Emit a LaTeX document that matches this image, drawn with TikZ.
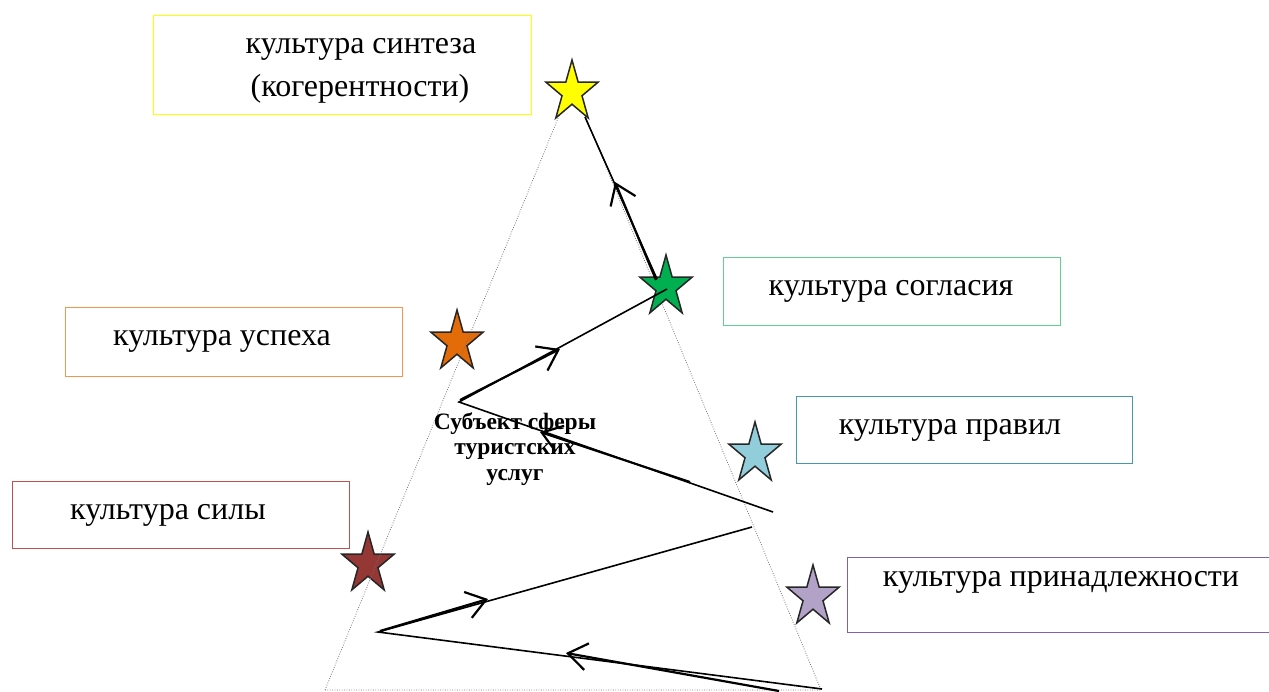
\documentclass[tikz,border=0pt]{standalone}
\usepackage{fontspec}
\setmainfont{Liberation Serif}
\usetikzlibrary{arrows.meta}
\definecolor{bYel}{RGB}{255,255,0}
\definecolor{bGrn}{RGB}{100,205,150}
\definecolor{bOrg}{RGB}{240,150,80}
\definecolor{bBlu}{RGB}{75,150,172}
\definecolor{bRed}{RGB}{192,80,77}
\definecolor{bPur}{RGB}{128,96,176}
\definecolor{sYel}{RGB}{255,255,0}
\definecolor{sGrn}{RGB}{0,176,80}
\definecolor{sOrg}{RGB}{227,108,9}
\definecolor{sBlu}{RGB}{146,205,220}
\definecolor{sRed}{RGB}{149,55,53}
\definecolor{sPur}{RGB}{179,162,199}
\begin{document}
\begin{tikzpicture}[x=1pt,y=-1pt,
  boxst/.style={draw, line width=1.1pt, anchor=north west, inner sep=0pt, fill=none},
  lbl/.style={anchor=base, inner sep=0pt, font=\fontsize{32}{38}\selectfont},
  ctext/.style={align=center, inner sep=0pt, font=\fontsize{23.5}{25.5}\selectfont\bfseries},
  starst/.style={draw=black!85, line width=1.5pt, line join=miter},
  tri/.style={draw=black!55, line width=0.8pt, dash pattern=on 0.8pt off 1.6pt},
  conn/.style={draw=black, line width=1.6pt},
  arr/.style={draw=black, line width=2.2pt, -{Straight Barb[length=19pt,width=27pt,line width=2.2pt]}},
  pics/mystar/.style={code={\filldraw[starst,fill=#1] (0,-32) -- (6.17,-9.89) -- (26.15,-9.89) -- (9.99,3.78) -- (16.17,25.89) -- (0,12.22) -- (-16.17,25.89) -- (-9.99,3.78) -- (-26.15,-9.89) -- (-6.17,-9.89) -- cycle;}}
]
\useasboundingbox (0,0) rectangle (1269,691);

% boxes
\node[boxst, draw=bYel, minimum width=378pt, minimum height=99pt] (bsyn) at (153,15) {};
\node[boxst, draw=bGrn, minimum width=337pt, minimum height=68pt] (bsog) at (723,257) {};
\node[boxst, draw=bOrg, minimum width=337pt, minimum height=69pt] (busp) at (65,307) {};
\node[boxst, draw=bBlu, minimum width=336pt, minimum height=67pt] (bpra) at (796,396) {};
\node[boxst, draw=bRed, minimum width=337pt, minimum height=67pt] (bsil) at (12,481) {};
\node[boxst, draw=bPur, minimum width=440pt, minimum height=75pt] (bpri) at (847,557) {};

% box texts
\node[lbl] (tsyn1) at (361,53) {культура синтеза};
\node[lbl] (tsyn2) at (360,96) {(когерентности)};
\node[lbl] (tsog) at (891,295) {культура согласия};
\node[lbl] (tusp) at (222,345) {культура успеха};
\node[lbl] (tpra) at (950,434) {культура правил};
\node[lbl] (tsil) at (168,519) {культура силы};
\node[lbl] (tpri) at (1061,586) {культура принадлежности};

% lower stars (under the dotted triangle)
\pic at (457,342) {mystar=sOrg};
\pic at (755,454) {mystar=sBlu};
\pic at (368,564) {mystar=sRed};
\pic at (813,597) {mystar=sPur};

% dotted triangle
\coordinate (tA) at (325,690);
\coordinate (tB) at (572,84);
\coordinate (tC) at (821,690);
\draw[tri] (tA) -- (tB) -- (tC) -- cycle;

% upper stars
\pic at (572,92) {mystar=sYel};
\pic at (666,287) {mystar=sGrn};

% centre text
\node[ctext] (subj) at (515,449) {Субъект сферы\\туристских\\услуг};

% connector path
\coordinate (q0) at (822,689);
\coordinate (q1) at (378,632);
\coordinate (q2) at (752,527);
\coordinate (q3) at (773,512);
\coordinate (q4) at (459,402);
\coordinate (q5) at (667,289);
\coordinate (q6) at (657,279);
\coordinate (q7) at (585,117);
\draw[conn] (q0) -- (q1) -- (q2);
\draw[conn] (q3) -- (q4) -- (q5);
\draw[conn] (q6) -- (q7);

% arrow strokes
\coordinate (a1s) at (779,691); \coordinate (a1t) at (566,653);
\coordinate (a2s) at (380,631); \coordinate (a2t) at (488,599);
\coordinate (a3s) at (690,482); \coordinate (a3t) at (540,432);
\coordinate (a4s) at (460,400); \coordinate (a4t) at (560,349);
\coordinate (a5s) at (656,280); \coordinate (a5t) at (615,182);
\draw[arr] (a1s) -- (a1t);
\draw[arr] (a2s) -- (a2t);
\draw[arr] (a3s) -- (a3t);
\draw[arr] (a4s) -- (a4t);
\draw[arr] (a5s) -- (a5t);
\end{tikzpicture}
\end{document}
